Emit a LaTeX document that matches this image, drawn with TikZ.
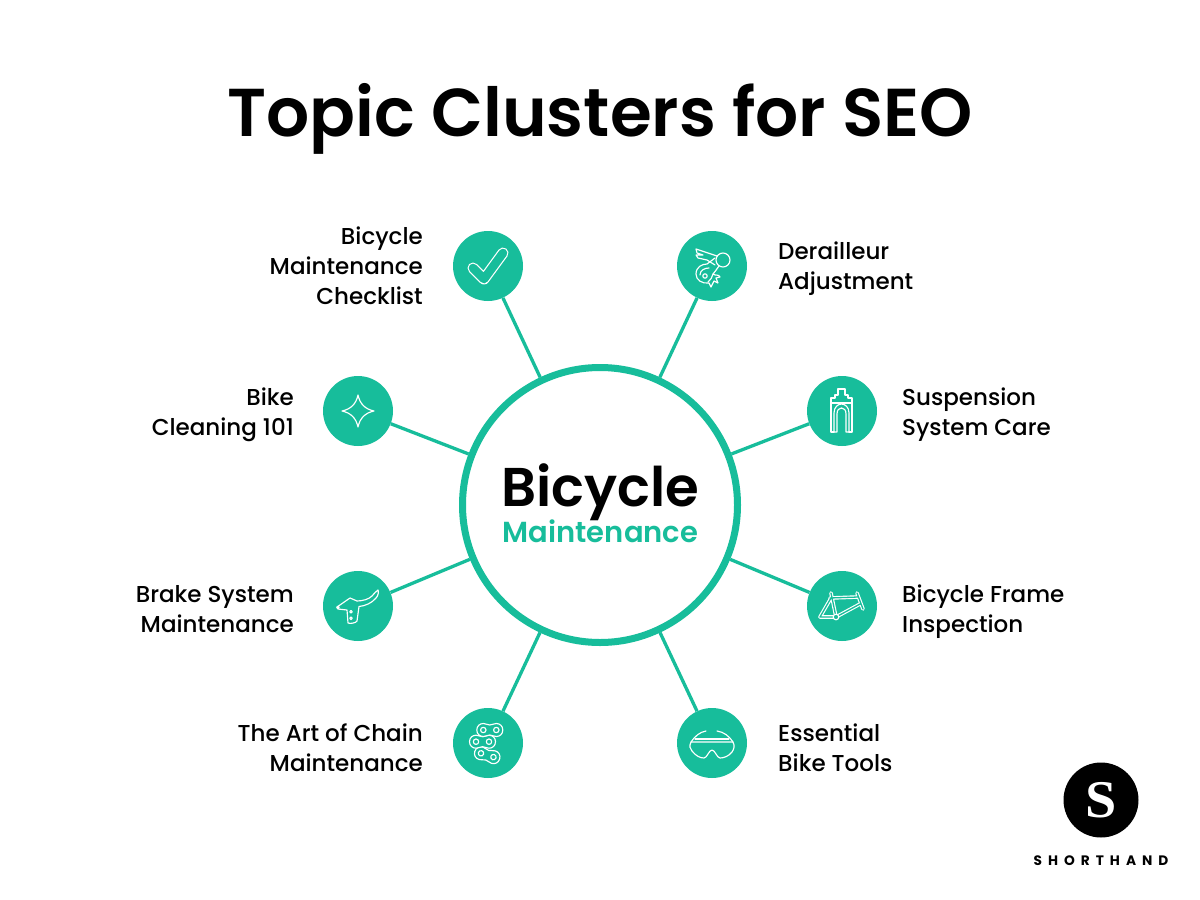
\documentclass[tikz,border=0pt]{standalone}
\usepackage{fontspec}
\setmainfont{Poppins}[UprightFont=* Medium,BoldFont=* SemiBold]
\newfontfamily\logofont{Poppins}[UprightFont=* Bold,LetterSpace=44]
\newfontfamily\serifS{Liberation Serif}[UprightFont=* Bold]
\definecolor{teal1}{HTML}{17BD9B}
\tikzset{
  hubnode/.style={circle,draw=teal1,fill=white,line width=7pt,minimum size=275pt,inner sep=0pt},
  satnode/.style={circle,fill=teal1,minimum size=70pt,inner sep=0pt},
  link/.style={draw=teal1,line width=3.3pt},
  lbl/.style={font=\fontsize{23}{30}\selectfont,inner sep=0pt},
  lblL/.style={lbl,anchor=east,align=right},
  lblR/.style={lbl,anchor=west,align=left},
  ico/.style={draw=white,line width=1.15pt,line join=round,line cap=round},
  tubeW/.style={draw=white,line width=#1,line join=round,line cap=round},
  tubeT/.style={draw=teal1,line width=#1,line join=round,line cap=round},
}
\newcommand\chainlink[3]{%
  \begin{scope}[shift={(#1,#2)},rotate=#3]
    \draw[ico,fill=teal1] (-6.5,0) .. controls (-6.5,-4) and (-3.5,-6.5) .. (0,-6.5) .. controls (3,-6.5) and (4,-5) .. (6.5,-5) .. controls (9,-5) and (10,-6.5) .. (13,-6.5) .. controls (16.5,-6.5) and (19.5,-4) .. (19.5,0) .. controls (19.5,4) and (16.5,6.5) .. (13,6.5) .. controls (10,6.5) and (9,5) .. (6.5,5) .. controls (4,5) and (3,6.5) .. (0,6.5) .. controls (-3.5,6.5) and (-6.5,4) .. (-6.5,0) -- cycle;
    \draw[ico] (0,0) circle (2.7);
    \draw[ico] (13,0) circle (2.7);
  \end{scope}}
\begin{document}
\begin{tikzpicture}[x=1pt,y=-1pt]
\useasboundingbox[fill=white] (0,0) rectangle (1200,900);
\node[inner sep=0pt,font=\fontsize{67.7}{70}\selectfont\bfseries] (title) at (600,119) {Topic Clusters for SEO};
\node[hubnode] (hub) at (600,505) {};
\node[inner sep=0pt,font=\fontsize{54.6}{60}\selectfont\bfseries] (hubA) at (600,492.5) {Bicycle};
\node[inner sep=0pt,text=teal1,font=\fontsize{29}{32}\selectfont\bfseries] (hubB) at (600.5,531) {Maintenance};
\foreach \n/\x/\y in {a/488/266,b/712/266,c/358/411,d/842/411,e/358/606,f/842/606,g/488/743,h/712/743}{
  \node[satnode] (\n) at (\x,\y) {};
  \draw[link] (hub) -- (\n);
}
\node[lblL] (la) at (423,266) {Bicycle\\Maintenance\\Checklist};
\node[lblR] (lb) at (778,269) {Derailleur\\Adjustment};
\node[lblL] (lc) at (294,414.5) {Bike\\Cleaning 101};
\node[lblR] (ld) at (902,414.5) {Suspension\\System Care};
\node[lblL] (le) at (294,609) {Brake System\\Maintenance};
\node[lblR] (lf) at (902,611.5) {Bicycle Frame\\Inspection};
\node[lblL] (lg) at (423,748) {The Art of Chain\\Maintenance};
\node[lblR] (lh) at (778,748) {Essential\\Bike Tools};
% check
\begin{scope}[shift={(488,266)}]
  \draw[tubeW=11pt] (-15,2) -- (-4,13) -- (15,-13);
  \draw[tubeT=8.6pt] (-15,2) -- (-4,13) -- (15,-13);
\end{scope}
% derailleur
\begin{scope}[shift={(712,266)}]
  \draw[ico] (11,-6) circle (7);
  \draw[ico] (5,-10) -- (-4,-13) -- (-16,-17) -- (-15,-13) -- (-9,-11) -- (-16,-11) -- (-14,-8) -- (-5,-6) -- (3,-1);
  \draw[ico] (7,0) .. controls (4,4) and (3,6) .. (1,8) .. controls (3,10) and (7,8) .. (8,11) -- (4,12) -- (6,17) -- (2,15) -- (-1,21) -- (-3,17) .. controls (-10,18) and (-16,14) .. (-16,8) .. controls (-16,1) and (-10,-2) .. (-5,-2) -- (3,-8);
  \draw[ico] (-12,9) .. controls (-12,4) and (-7,2) .. (-3,2);
  \draw[ico] (-7,10) circle (2.2);
  \draw[ico] (-4,16) .. controls (-1,14) and (0,11) .. (1,8);
\end{scope}
% star
\begin{scope}[shift={(358,411)}]
  \draw[ico] (0,-16) .. controls (2,-7) and (7,-2) .. (16,0) .. controls (7,2) and (2,7) .. (0,16) .. controls (-2,7) and (-7,2) .. (-16,0) .. controls (-7,-2) and (-2,-7) .. (0,-16) -- cycle;
\end{scope}
% fork
\begin{scope}[shift={(842,411)}]
  \draw[ico] (-8,21) -- (-11,21) -- (-11,-8) -- (-11,-13) -- (-7,-13) -- (-7,-16) -- (-4,-16) -- (-4,-22) -- (3,-22) -- (3,-16) -- (6,-16) -- (6,-13) -- (10,-13) -- (10,-8) -- (10,21) -- (7,21);
  \draw[ico] (-8,21) -- (-8,2) .. controls (-8,-4) and (-4,-7) .. (-0.5,-7) .. controls (3,-7) and (7,-4) .. (7,2) -- (7,21);
  \draw[ico] (-8,21) -- (-5,21) -- (-5,3) .. controls (-5,-1) and (-3,-3) .. (-0.5,-3) .. controls (2,-3) and (4,-1) .. (4,3) -- (4,21) -- (7,21);
  \draw[ico] (-11,-8) -- (10,-8);
\end{scope}
% lever
\begin{scope}[shift={(358,606)}]
  \draw[ico] (-21,1) -- (-8,-8) -- (-1,-5) .. controls (5,-5) and (11,-7) .. (14,-10) .. controls (16,-12) and (18,-15) .. (20,-16) .. controls (21,-14) and (20,-10) .. (18,-8) .. controls (14,-3) and (7,0) .. (1,0.5) -- (-1,15) .. controls (-2,17) and (-8,18) .. (-10,17) -- (-11,4) -- (-20,3) -- cycle;
  \draw[ico] (-20,1.5) circle (1.2);
  \draw[ico] (-7,5.7) circle (1.3);
  \draw[ico] (-7,12.3) circle (1.3);
\end{scope}
% frame
\begin{scope}[shift={(842,606)}]
  \draw[tubeW=3.6pt] (-11,-13) -- (-6,11) (-12,-8) -- (16,-9) (15,-13) -- (21,3) (18,-2) -- (-6,11) -- (-22,11) -- (-11,-8);
  \draw[tubeT=1.3pt] (-11,-13) -- (-6,11) (-12,-8) -- (16,-9) (15,-13) -- (21,3) (18,-2) -- (-6,11) -- (-22,11) -- (-11,-8);
  \draw[ico,fill=teal1] (-6,11) circle (2.8);
\end{scope}
% chain
\begin{scope}[shift={(488,743)}]
  \chainlink{-7}{10.3}{-17}
  \chainlink{-12}{-1.3}{0}
  \chainlink{-4.7}{-13}{0}
\end{scope}
% goggles
\begin{scope}[shift={(712,743)}]
  \draw[ico] (-21,-1) .. controls (-23,3) and (-22,6) .. (-20,8) .. controls (-16,13) and (-12,15) .. (-8,15) .. controls (-5,15) and (-3,7) .. (0,7) .. controls (3,7) and (5,15) .. (8,15) .. controls (12,15) and (17,13) .. (20,9) .. controls (22,6) and (23,3) .. (21,-1) -- cycle;
  \draw[ico] (-17,-4) -- (17,-4);
  \draw[ico] (-21,-1) .. controls (-17,-7) and (-12,-11) .. (-6,-12);
  \draw[ico] (21,-1) .. controls (17,-7) and (12,-11) .. (5,-12);
\end{scope}
% logo
\node[circle,fill=black,minimum size=75pt,inner sep=0pt] (logo) at (1101,800) {};
\node[text=white,inner sep=0pt,xscale=1.06,font=\fontsize{53}{53}\selectfont\serifS] (logoS) at (1101,800) {S};
\node[inner sep=0pt,font=\fontsize{13.7}{14}\selectfont\logofont] (logoT) at (1101,861) {SHORTHAND};
\end{tikzpicture}
\end{document}
